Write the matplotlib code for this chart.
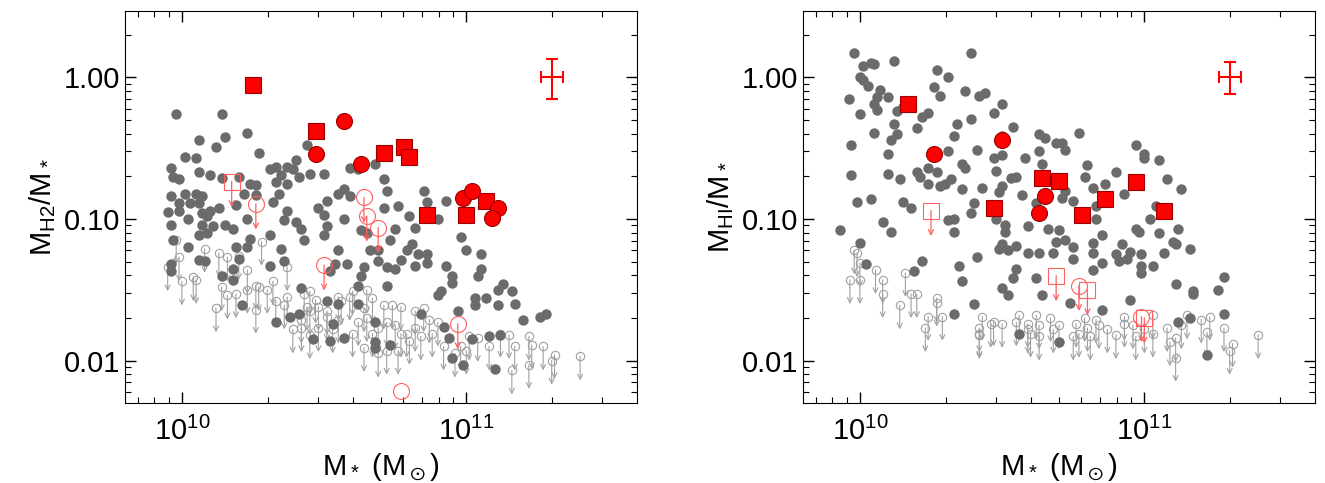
import numpy as np
import matplotlib
matplotlib.use("Agg")
import matplotlib.pyplot as plt
from matplotlib.ticker import LogLocator, FuncFormatter, NullFormatter

plt.rcParams["font.family"] = ["Liberation Sans", "DejaVu Sans"]
plt.rcParams["mathtext.default"] = "regular"

# ---- left panel: H2 (log10 stellar mass, log10 gas fraction) ----
h2_det_m = [9.98,10.14,10.23,10.15,10.06,10.12,10.27,10.01,10.05,9.96,10.06,10.10,9.97,9.99,10.14,10.20,10.24,10.26,
            10.31,10.33,10.37,10.39,10.40,10.44,10.45,10.50,10.59,10.62,10.68,10.33,10.37,10.35,10.41,9.96,10.01,10.05,
            10.07,9.99,10.03,10.06,9.95,9.99,10.10,10.13,10.02,10.07,10.09,9.96,10.07,10.11,10.15,10.18,10.23,10.19,
            10.22,10.26,10.32,10.34,10.37,10.36,10.40,10.42,10.51,10.55,10.57,10.59,10.48,10.50,10.51,10.50,10.57,10.43,
            10.31,10.24,10.23,10.19,9.97,10.02,10.06,10.09,10.71,10.72,10.85,10.86,10.93,10.71,10.76,10.80,10.82,10.90,
            10.75,10.63,10.65,10.73,10.66,10.69,10.79,10.81,10.83,10.86,10.86,10.82,10.69,10.72,10.75,10.77,10.55,10.54,
            10.58,10.52,10.64,10.63,10.35,10.36,10.31,10.06,10.08,9.96,9.96,10.14,10.18,10.18,10.20,10.98,11.00,11.05,
            11.05,11.04,10.93,10.95,10.95,10.72,10.62,10.42,11.13,11.11,11.16,10.90,10.91,11.03,11.07,11.03,11.11,11.17,
            10.97,10.84,11.20,11.26,11.28,10.92,10.94,11.02,11.08,11.12,10.99,10.95,11.10,10.68,10.73,10.68,10.53,10.55,
            10.62,10.51,10.46,10.52,10.57,10.33,10.38,10.41,10.21,10.68]
h2_det_f = [-0.26,-0.26,-0.39,-0.42,-0.44,-0.49,-0.53,-0.56,-0.57,-0.64,-0.67,-0.69,-0.70,-0.72,-0.71,-0.70,-0.75,-0.76,
            -0.65,-0.63,-0.63,-0.65,-0.58,-0.48,-0.68,-0.68,-0.64,-0.65,-0.61,-0.74,-0.75,-0.69,-0.70,-0.84,-0.82,-0.82,
            -0.84,-0.89,-0.89,-0.89,-0.95,-0.94,-0.94,-0.92,-1.00,-0.96,-0.98,-1.04,-1.04,-1.05,-1.04,-1.07,-1.00,-0.90,
            -0.82,-0.83,-0.88,-0.82,-0.94,-1.01,-1.02,-1.07,-0.87,-0.82,-0.79,-0.84,-0.92,-0.97,-1.05,-1.11,-1.00,-1.15,
            -1.11,-1.14,-1.20,-1.20,-1.15,-1.20,-1.11,-1.10,-0.72,-0.80,-0.80,-0.88,-0.87,-0.92,-0.91,-0.98,-1.06,-1.00,
            -1.07,-1.08,-1.10,-1.15,-1.22,-1.22,-1.22,-1.18,-1.25,-1.25,-1.31,-1.33,-1.30,-1.34,-1.35,-1.29,-1.22,-1.32,
            -1.32,-1.37,-1.34,-1.40,-1.21,-1.30,-1.33,-1.29,-1.30,-1.32,-1.37,-1.40,-1.43,-1.35,-1.28,-1.13,-1.22,-1.25,
            -1.35,-1.40,-1.33,-1.40,-1.45,-1.47,-1.47,-1.49,-1.46,-1.50,-1.51,-1.54,-1.51,-1.56,-1.56,-1.61,-1.61,-1.60,
            -1.65,-1.67,-1.71,-1.69,-1.67,-1.76,-1.84,-1.85,-1.83,-1.82,-2.03,-1.98,-2.06,-1.87,-1.89,-1.91,-1.74,-1.60,
            -1.60,-1.58,-1.85,-1.86,-1.84,-1.73,-1.69,-1.67,-1.61,-1.73]
h2_lim_m = [9.95,10.00,10.04,10.05,9.98,9.99,10.08,10.13,10.16,10.20,10.23,10.28,10.32,10.27,10.30,10.26,10.14,10.16,
            10.19,10.23,10.12,10.26,10.37,10.37,10.33,10.36,10.43,10.45,10.47,10.44,10.42,10.45,10.48,10.51,10.55,10.56,
            10.59,10.60,10.65,10.67,10.71,10.74,10.77,10.55,10.60,10.62,10.65,10.67,10.69,10.72,10.75,10.79,10.82,10.85,
            10.82,10.87,10.90,10.64,10.69,10.72,10.76,10.80,10.84,10.88,10.92,11.01,11.04,11.08,11.12,11.15,11.17,11.22,
            11.23,11.27,11.31,11.30,11.40,11.16,11.22,11.00,10.98,10.96,10.51,10.53,10.48,10.39,10.42,10.45,10.64,10.77]
h2_lim_f = [-1.34,-1.44,-1.41,-1.43,-1.15,-1.27,-1.21,-1.24,-1.27,-1.26,-1.36,-1.16,-1.44,-1.48,-1.50,-1.47,-1.48,-1.54,
            -1.53,-1.50,-1.63,-1.64,-1.34,-1.55,-1.58,-1.61,-1.53,-1.51,-1.57,-1.62,-1.71,-1.65,-1.62,-1.65,-1.55,-1.58,
            -1.55,-1.51,-1.50,-1.56,-1.61,-1.61,-1.62,-1.71,-1.81,-1.73,-1.70,-1.81,-1.77,-1.73,-1.75,-1.81,-1.65,-1.63,
            -1.77,-1.71,-1.73,-1.91,-1.95,-1.93,-1.93,-1.86,-1.83,-1.81,-1.90,-1.83,-1.84,-1.90,-1.81,-1.82,-1.90,-1.83,
            -1.89,-1.90,-1.96,-2.00,-1.97,-2.07,-2.03,-1.93,-1.90,-1.95,-1.69,-1.78,-1.77,-1.78,-1.77,-1.82,-1.63,-1.81]
h2_sq_m = [10.25,10.47,10.71,10.78,10.80,10.86,11.00,11.07]
h2_sq_f = [-0.055,-0.38,-0.536,-0.49,-0.564,-0.974,-0.974,-0.875]
h2_ci_m = [10.57,10.47,10.63,10.99,11.02,11.11,11.09]
h2_ci_f = [-0.307,-0.54,-0.61,-0.854,-0.80,-0.92,-0.995]
h2_sq_lim_m = [10.175]
h2_sq_lim_f = [-0.736]
h2_ci_lim_m = [10.26,10.64,10.65,10.69,10.50,10.97,10.77]
h2_ci_lim_f = [-0.894,-0.847,-0.98,-1.06,-1.325,-1.74,-2.215]

# ---- right panel: HI ----
hi_det_m = [9.98,10.01,10.04,10.05,10.12,10.39,10.27,10.31,10.26,10.28,10.37,10.42,10.44,10.00,10.01,10.03,10.07,10.10,
            10.06,10.05,10.06,9.96,10.00,10.13,10.15,10.12,10.05,10.13,10.11,10.10,10.20,10.22,10.24,10.34,10.33,10.31,
            10.39,10.47,10.50,10.54,10.50,10.41,10.47,10.50,10.36,10.37,10.48,10.58,10.63,10.65,10.69,10.71,10.72,10.77,
            10.63,10.64,10.80,10.79,10.86,10.90,10.97,11.00,11.00,11.05,11.08,11.13,9.97,9.97,10.10,10.14,10.20,10.21,
            10.24,10.24,10.27,10.28,10.30,10.32,10.36,10.43,10.49,10.50,10.53,10.55,10.57,10.62,10.71,10.72,10.75,10.82,
            10.83,10.83,10.93,11.04,11.02,9.99,10.04,10.15,10.18,9.93,10.00,10.08,10.11,10.31,10.33,10.33,10.40,10.39,
            10.48,10.51,10.51,10.50,10.49,10.52,10.55,10.59,10.66,10.70,10.69,10.72,10.75,10.59,10.63,10.68,10.75,10.82,
            10.82,10.85,10.85,10.82,10.90,10.92,10.91,10.94,10.95,10.97,10.98,10.99,10.99,10.99,11.03,11.05,11.07,11.10,
            11.11,11.12,11.16,10.22,10.19,10.02,10.35,10.36,10.41,10.55,10.54,10.62,10.50,10.52,10.64,10.40,10.33,10.74,
            10.85,10.95,11.11,11.17,11.17,11.26,11.28,11.28,11.16,11.12,10.56,10.70,11.22]
hi_det_f = [0.17,0.08,0.10,0.095,0.12,0.175,0.05,0.00,-0.065,-0.13,-0.095,-0.13,-0.11,0.005,-0.02,-0.06,-0.085,-0.135,
            -0.135,-0.19,-0.23,-0.155,-0.26,-0.24,-0.205,-0.33,-0.39,-0.40,-0.44,-0.54,-0.36,-0.28,-0.25,-0.33,-0.41,-0.52,
            -0.29,-0.25,-0.19,-0.35,-0.41,-0.51,-0.57,-0.55,-0.61,-0.64,-0.66,-0.57,-0.40,-0.43,-0.465,-0.465,-0.51,-0.39,
            -0.52,-0.61,-0.62,-0.70,-0.75,-0.67,-0.48,-0.54,-0.57,-0.58,-0.72,-0.79,-0.48,-0.69,-0.68,-0.72,-0.67,-0.70,
            -0.75,-0.64,-0.67,-0.77,-0.75,-0.72,-0.79,-0.78,-0.81,-0.77,-0.71,-0.70,-0.83,-0.89,-0.85,-0.80,-0.87,-0.78,
            -0.91,-1.00,-0.82,-0.91,-1.00,-0.88,-0.86,-0.88,-0.925,-1.08,-1.17,-1.02,-1.09,-1.01,-1.00,-1.09,-0.89,-0.96,
            -1.00,-1.04,-1.09,-1.18,-1.21,-1.22,-1.19,-1.05,-1.07,-1.08,-1.16,-1.15,-1.20,-1.24,-1.24,-1.24,-1.28,-1.17,
            -1.24,-1.11,-1.31,-1.36,-1.25,-1.18,-1.30,-1.28,-1.23,-1.07,-1.09,-1.25,-1.33,-1.38,-1.33,-1.10,-1.24,-1.16,
            -1.18,-1.07,-1.21,-1.30,-1.37,-1.32,-1.33,-1.44,-1.27,-1.35,-1.42,-1.42,-1.49,-1.54,-1.54,-1.60,-1.67,-1.59,
            -1.64,-1.57,-1.46,-1.51,-1.53,-1.50,-1.41,-1.67,-1.70,-1.73,-1.81,-1.87,-1.96]
hi_lim_m = [9.98,9.99,10.00,9.965,10.00,10.055,10.08,10.08,10.16,10.14,10.18,10.20,10.27,10.27,10.24,10.23,10.29,10.43,
            10.42,10.42,10.46,10.47,10.50,10.56,10.55,10.59,10.62,10.63,10.67,10.70,10.60,10.63,10.68,10.75,10.76,10.79,
            10.80,10.83,10.84,10.81,10.87,10.90,10.93,10.93,10.96,10.97,11.00,11.03,11.03,11.08,11.09,11.11,11.13,11.15,
            11.20,11.23,11.22,11.28,11.31,11.30,11.11,11.40,10.42,10.59,10.77]
hi_lim_f = [-1.22,-1.24,-1.31,-1.43,-1.43,-1.36,-1.43,-1.53,-1.38,-1.61,-1.53,-1.53,-1.56,-1.59,-1.69,-1.77,-1.69,-1.69,
            -1.77,-1.81,-1.74,-1.73,-1.74,-1.68,-1.73,-1.74,-1.68,-1.75,-1.70,-1.75,-1.81,-1.83,-1.78,-1.83,-1.74,-1.70,
            -1.77,-1.71,-1.75,-1.83,-1.78,-1.82,-1.74,-1.69,-1.75,-1.83,-1.78,-1.68,-1.81,-1.77,-1.87,-1.84,-1.75,-1.68,
            -1.71,-1.69,-1.80,-1.77,-1.88,-1.93,-1.98,-1.82,-1.82,-1.78,-1.81]
hi_sq_m = [10.17,10.47,10.64,10.70,10.78,10.86,10.97,11.07]
hi_sq_f = [-0.19,-0.925,-0.71,-0.73,-0.97,-0.86,-0.74,-0.94]
hi_ci_m = [10.26,10.50,10.65,10.63]
hi_ci_f = [-0.54,-0.44,-0.84,-0.96]
hi_sq_lim_m = [10.25,10.69,10.80,11.00]
hi_sq_lim_f = [-0.94,-1.40,-1.50,-1.70]
hi_ci_lim_m = [10.77,10.99]
hi_ci_lim_f = [-1.47,-1.69]

# typical error bar
err_x = 2e11
err_xerr = [[1.76e10], [1.93e10]]
err_y = 1.0
h2_yerr = [[0.29], [0.35]]
hi_yerr = [[0.24], [0.29]]

GREY = "#6b6b6b"
LGREY = "#a0a0a0"
RED = "#ff0000"


def lin(a):
    return 10 ** np.asarray(a)


def limits(ax, m, f, color, ms, marker, dex, lw, mfc="none", z=2):
    x, y = lin(m), lin(f)
    ax.plot(x, y, marker, ms=ms, mfc=mfc, mec=color, mew=0.8, ls="none", zorder=z)
    for xi, yi in zip(x, y):
        ax.annotate("", xy=(xi, yi * 10 ** (-dex)), xytext=(xi, yi),
                    arrowprops=dict(arrowstyle="->", color=color, lw=lw,
                                    shrinkA=0, shrinkB=0, mutation_scale=9),
                    zorder=z)


def panel(ax, det_m, det_f, lim_m, lim_f, sq_m, sq_f, ci_m, ci_f,
          sql_m, sql_f, cil_m, cil_f, yerr, ylabel):
    limits(ax, lim_m, lim_f, LGREY, 6, "o", 0.17, 0.8, z=2)
    ax.plot(lin(det_m), lin(det_f), "o", color=GREY, ms=7.5, mec="none", zorder=3)
    limits(ax, sql_m, sql_f, "#ff6060", 11.5, "s", 0.18, 0.9, z=4)
    limits(ax, cil_m, cil_f, "#ff6060", 11.5, "o", 0.18, 0.9, z=4)
    ax.plot(lin(sq_m), lin(sq_f), "s", color=RED, mec="#990000", mew=0.8, ms=11.5, zorder=5)
    ax.plot(lin(ci_m), lin(ci_f), "o", color=RED, mec="#990000", mew=0.8, ms=11.5, zorder=5)
    ax.errorbar([err_x], [err_y], xerr=err_xerr, yerr=yerr, color=RED, capsize=4,
                capthick=1.5, lw=1.5, zorder=5)
    ax.set_xscale("log")
    ax.set_yscale("log")
    ax.set_xlim(10 ** 9.8, 10 ** 11.6)
    ax.set_ylim(10 ** -2.3, 10 ** 0.472)
    ax.yaxis.set_major_locator(LogLocator(base=10, numticks=10))
    ax.yaxis.set_major_formatter(FuncFormatter(lambda v, p: f"{v:.2f}"))
    ax.yaxis.set_minor_formatter(NullFormatter())
    ax.xaxis.set_minor_formatter(NullFormatter())
    ax.tick_params(which="both", direction="in", top=True, right=True, labelsize=21)
    ax.tick_params(which="major", length=8, width=1)
    ax.tick_params(which="minor", length=4, width=0.8)
    ax.tick_params(axis="x", which="major", pad=10)
    ax.set_xlabel(r"M$_*$ (M$_\odot$)", fontsize=21)
    ax.set_ylabel(ylabel, fontsize=21)


fig = plt.figure(figsize=(13.25, 4.83), dpi=100)
ax1 = fig.add_axes([125 / 1325, 80 / 483, 512 / 1325, 392.3 / 483])
ax2 = fig.add_axes([803 / 1325, 80 / 483, 512 / 1325, 392.3 / 483])

panel(ax1, h2_det_m, h2_det_f, h2_lim_m, h2_lim_f, h2_sq_m, h2_sq_f, h2_ci_m, h2_ci_f,
      h2_sq_lim_m, h2_sq_lim_f, h2_ci_lim_m, h2_ci_lim_f, h2_yerr, r"M$_{H2}$/M$_*$")
panel(ax2, hi_det_m, hi_det_f, hi_lim_m, hi_lim_f, hi_sq_m, hi_sq_f, hi_ci_m, hi_ci_f,
      hi_sq_lim_m, hi_sq_lim_f, hi_ci_lim_m, hi_ci_lim_f, hi_yerr, r"M$_{HI}$/M$_*$")

fig.savefig("out.png", dpi=100)
